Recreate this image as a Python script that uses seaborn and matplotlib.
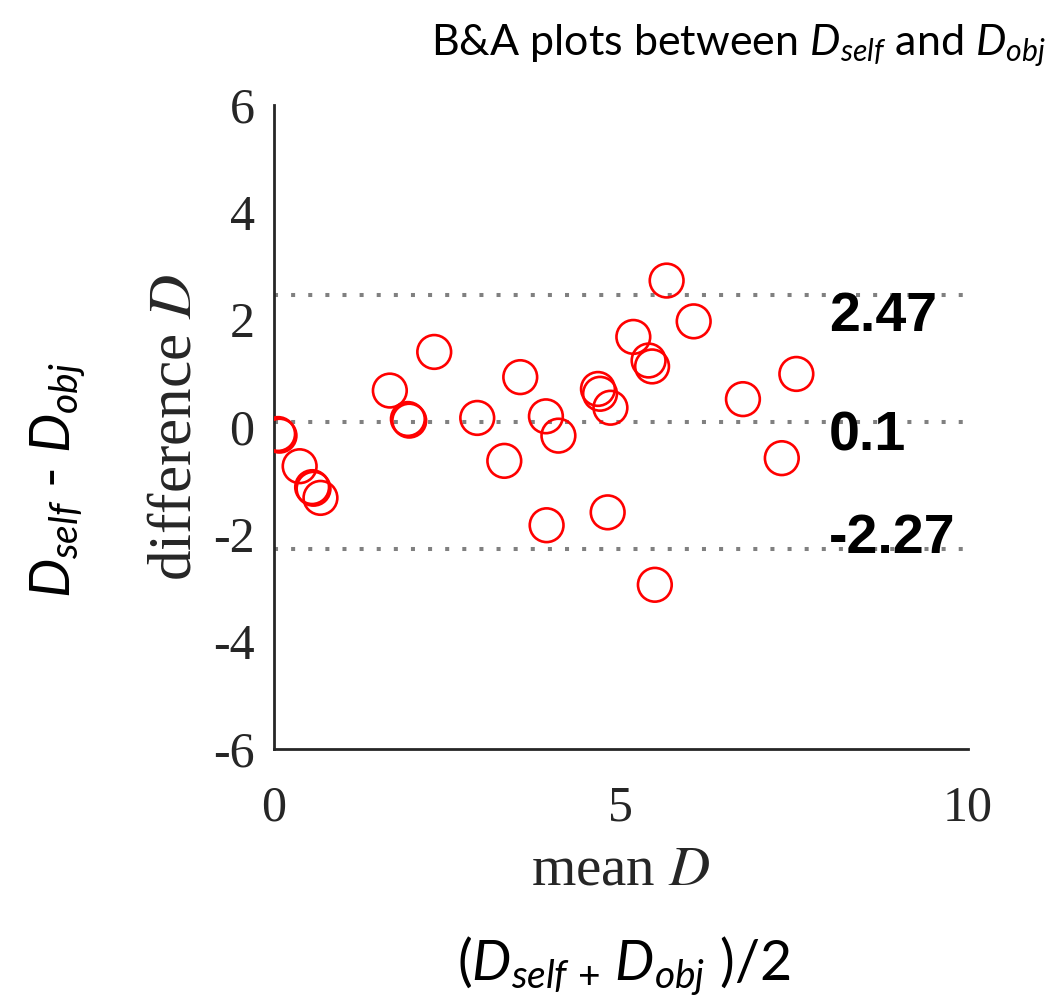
import numpy as np
import pandas as pd
import matplotlib
matplotlib.use("Agg")
import matplotlib.pyplot as plt
import seaborn as sns

# ─── Données ─────────────────────────────────────────────────────────────────
mean_d = [0.06, 0.08, 0.37, 0.55, 0.57, 0.67, 1.67, 1.93, 1.95, 2.31,
          2.93, 3.32, 3.55, 3.92, 3.93, 4.10, 4.67, 4.70, 4.81, 4.85,
          5.18, 5.40, 5.45, 5.49, 5.66, 6.05, 6.76, 7.32, 7.53]
diff_d = [-0.13, -0.16, -0.73, -1.12, -1.15, -1.32, 0.68, 0.15, 0.12, 1.40,
          0.17, -0.63, 0.93, 0.20, -1.83, -0.16, 0.71, 0.62, -1.59, 0.36,
          1.68, 1.24, 1.13, -2.94, 2.73, 1.97, 0.52, -0.58, 0.99]

limit_values = [2.47, 0.1, -2.27]
limit_labels = ["2.47", "0.1", "-2.27"]
label_y = [2.06, -0.18, -2.08]

x_ticks = [0, 5, 10]
y_ticks = [-6, -4, -2, 0, 2, 4, 6]

df = pd.DataFrame({"mean": mean_d, "diff": diff_d})

# ─── Style ───────────────────────────────────────────────────────────────────
sns.set_theme(style="white")
plt.rcParams.update({
    "font.family": "Liberation Serif",
    "axes.unicode_minus": False,
    "mathtext.fontset": "custom",
    "mathtext.rm": "Lato",
    "mathtext.it": "Lato:italic",
    "mathtext.bf": "Lato:bold",
})
AX_COL = "#262626"

fig = plt.figure(figsize=(10.64, 10.06), dpi=100)
ax = fig.add_axes([0.2575, 0.2555, 0.652, 0.640])

for v in limit_values:
    ax.axhline(v, color="#808080", lw=2.9, linestyle=(0, (1, 3.25)), zorder=1)

sns.scatterplot(data=df, x="mean", y="diff", ax=ax, marker="o", s=590,
                facecolor="none", edgecolor="#ff0000", linewidth=1.9,
                zorder=3, legend=False)

for v, lbl in zip(label_y, limit_labels):
    ax.text(8.0, v, lbl, ha="left", va="center", fontsize=40,
            fontweight="bold", family="Liberation Sans", color="black",
            zorder=4)

ax.set_xlim(0, 10)
ax.set_ylim(-6, 6)
ax.set_xticks(x_ticks)
ax.set_yticks(y_ticks)
ax.tick_params(axis="both", direction="in", length=9, width=2,
               colors=AX_COL, labelsize=36)
ax.tick_params(axis="x", pad=26)
ax.tick_params(axis="y", pad=14)
for side in ["top", "right"]:
    ax.spines[side].set_visible(False)
for side in ["left", "bottom"]:
    ax.spines[side].set_color(AX_COL)
    ax.spines[side].set_linewidth(2)

ax.set_xlabel("mean $D$", fontsize=41, color=AX_COL, math_fontfamily="stix")
ax.set_ylabel("difference $D$", fontsize=44, color=AX_COL,
              math_fontfamily="stix")
ax.xaxis.set_label_coords(0.5, -0.149)
ax.yaxis.set_label_coords(-0.102, 0.5)

# annotations ajoutées autour de la figure
fig.text(0.694, 0.955, r"B&A plots between $D_{self}$ and $D_{obj}$",
         ha="center", va="center", fontsize=31, family="Lato", color="black")
fig.text(0.586, 0.040, r"$(D_{self\,+}\,D_{obj}\ )/2$",
         ha="center", va="center", fontsize=40, family="Lato", color="black")
fig.text(0.055, 0.523, r"$D_{self}$ - $D_{obj}$", ha="center", va="center",
         rotation=90, fontsize=40, family="Lato", color="black")

fig.savefig("out.png", dpi=100, facecolor="white")
